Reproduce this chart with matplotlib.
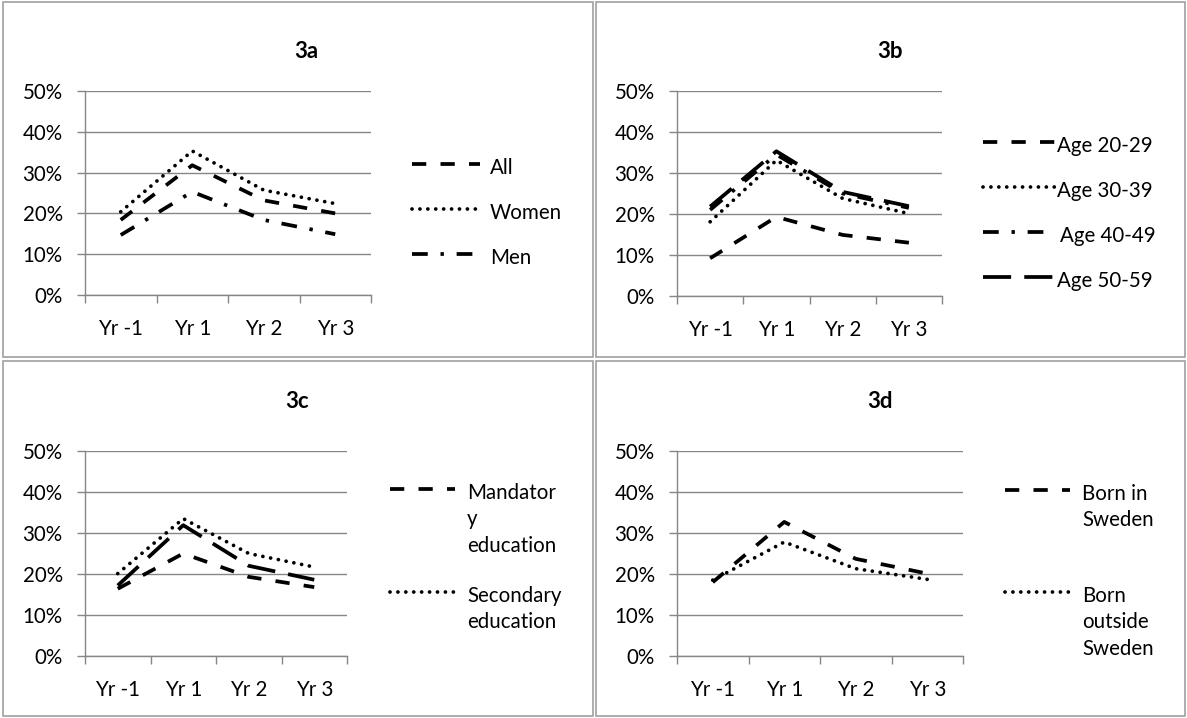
import matplotlib
matplotlib.use("Agg")
import matplotlib.pyplot as plt
from matplotlib.lines import Line2D
from matplotlib.patches import Rectangle

plt.rcParams['font.family'] = ['Lato', 'DejaVu Sans']

W, H = 1187, 718

years = ['Yr -1', 'Yr 1', 'Yr 2', 'Yr 3']
yticks = [0, 0.1, 0.2, 0.3, 0.4, 0.5]

# 3a
all_ = [0.184, 0.318, 0.232, 0.200]
women = [0.204, 0.353, 0.257, 0.224]
men = [0.147, 0.253, 0.184, 0.149]

# 3b
age_20_29 = [0.092, 0.193, 0.149, 0.130]
age_30_39 = [0.181, 0.331, 0.238, 0.201]
age_40_49 = [0.210, 0.345, 0.250, 0.215]
age_50_59 = [0.218, 0.353, 0.254, 0.219]

# 3c
mandatory = [0.164, 0.250, 0.193, 0.168]
secondary = [0.201, 0.335, 0.250, 0.217]
third_edu = [0.172, 0.319, 0.220, 0.186]

# 3d
born_sweden = [0.180, 0.327, 0.237, 0.201]
born_outside = [0.185, 0.278, 0.213, 0.187]

LW = 2.7
FS = 14.8
styles = {
    'dash': dict(dashes=(3.8, 3.8), dash_capstyle='butt'),
    'dot': dict(dashes=(0.01, 2.1), dash_capstyle='round'),
    'dashdot': dict(dashes=(4.2, 3.4, 0.9, 3.4), dash_capstyle='butt'),
    'longdash': dict(dashes=(7.5, 3.5), dash_capstyle='butt'),
}

fig = plt.figure(figsize=(W / 100, H / 100), dpi=100)


def fx(x):
    return x / W


def fy(y):
    return 1 - y / H


def make_axes(left, right, top, bottom):
    ax = fig.add_axes([fx(left), fy(bottom), (right - left) / W, (bottom - top) / H])
    ax.set_xlim(-0.5, 3.5)
    ax.set_ylim(0, 0.5)
    ax.set_yticks(yticks)
    ax.set_yticklabels([f'{int(round(v * 100))}%' for v in yticks])
    ax.set_xticks([-0.5, 0.5, 1.5, 2.5, 3.5])
    ax.set_xticklabels([])
    ax.set_xticks(range(4), minor=True)
    ax.set_xticklabels(years, minor=True)
    ax.tick_params(axis='x', which='minor', length=0, pad=17, labelsize=FS)
    ax.tick_params(axis='x', which='major', length=6, color='#868686', width=1)
    ax.tick_params(axis='y', length=6, color='#868686', width=1, labelsize=FS, pad=10)
    ax.grid(axis='y', color='#868686', lw=1)
    ax.set_axisbelow(True)
    for s in ['top', 'right']:
        ax.spines[s].set_visible(False)
    for s in ['left', 'bottom']:
        ax.spines[s].set_color('#868686')
        ax.spines[s].set_linewidth(1)
    return ax


def draw(ax, vals, style):
    ax.plot(range(4), vals, color='black', lw=LW, **styles[style])


def legend_entry(x0, x1, y, style, label, tx):
    fig.add_artist(Line2D([fx(x0), fx(x1)], [fy(y), fy(y)], transform=fig.transFigure,
                          color='black', lw=LW, **styles[style]))
    fig.text(fx(tx), fy(y - 6), label, fontsize=FS, va='top', ha='left',
             linespacing=1.4)


def title(x, y, s):
    fig.text(fx(x), fy(y), s, fontsize=16, fontweight='bold', ha='center', va='center')


# panel borders
for (x0, y0, x1, y1) in [(3, 2, 593, 357), (596, 2, 1185, 357),
                         (3, 361, 593, 716), (596, 361, 1185, 716)]:
    fig.add_artist(Rectangle((fx(x0), fy(y1)), (x1 - x0) / W, (y1 - y0) / H,
                             transform=fig.transFigure, fill=False,
                             edgecolor='#a0a0a0', lw=1.2))

# 3a
ax = make_axes(85, 371, 91, 295)
draw(ax, all_, 'dash')
draw(ax, women, 'dot')
draw(ax, men, 'dashdot')
title(306, 52, '3a')
legend_entry(412, 480, 164, 'dash', 'All', 490)
legend_entry(412, 480, 209, 'dot', 'Women', 490)
legend_entry(412, 480, 254, 'dashdot', 'Men', 490)

# 3b
ax = make_axes(677, 942, 91, 296)
draw(ax, age_20_29, 'dash')
draw(ax, age_30_39, 'dot')
draw(ax, age_40_49, 'dashdot')
draw(ax, age_50_59, 'longdash')
title(890, 52, '3b')
legend_entry(983, 1055, 142, 'dash', 'Age 20-29', 1057)
legend_entry(983, 1055, 187, 'dot', 'Age 30-39', 1057)
legend_entry(983, 1055, 232, 'dashdot', 'Age 40-49', 1060)
legend_entry(983, 1055, 277, 'longdash', 'Age 50-59', 1057)

# 3c
ax = make_axes(85, 347, 451, 656)
draw(ax, mandatory, 'dash')
draw(ax, secondary, 'dot')
draw(ax, third_edu, 'longdash')
title(297, 402, '3c')
legend_entry(390, 455, 489, 'dash', 'Mandator\ny\neducation', 467)
legend_entry(390, 455, 592, 'dot', 'Secondary\neducation', 467)

# 3d
ax = make_axes(677, 963, 451, 656)
draw(ax, born_sweden, 'dash')
draw(ax, born_outside, 'dot')
title(880, 402, '3d')
legend_entry(1005, 1070, 490, 'dash', 'Born in\nSweden', 1082)
legend_entry(1005, 1070, 592, 'dot', 'Born\noutside\nSweden', 1082)

fig.savefig('out.png', dpi=100)
